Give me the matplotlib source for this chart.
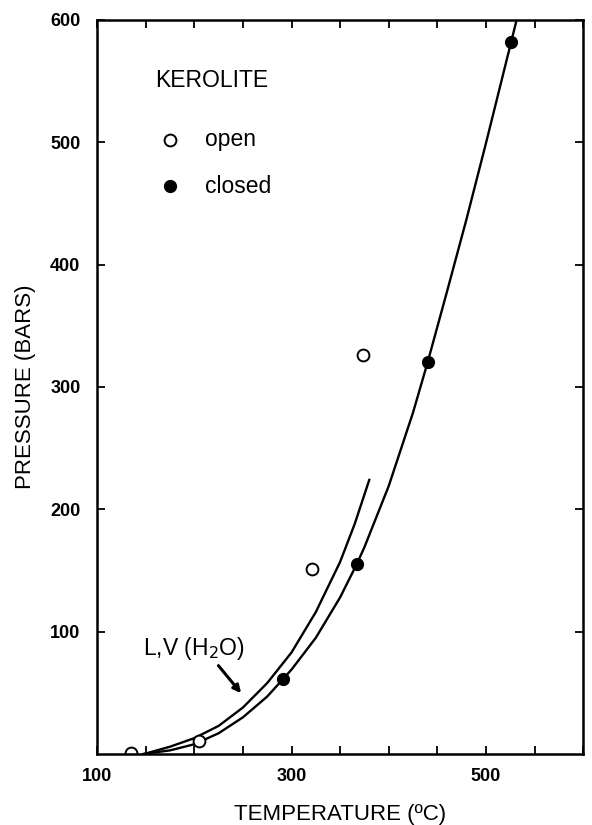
import numpy as np
import matplotlib.pyplot as plt
from matplotlib.ticker import MultipleLocator

plt.rcParams['font.family'] = ['Liberation Sans', 'DejaVu Sans']

# points mesures
open_T = np.array([135, 205, 321, 374])
open_P = np.array([1, 11, 151, 326])
closed_T = np.array([291, 367, 440, 526])
closed_P = np.array([61, 155, 320, 582])

# courbe de la reaction
curve_T = [147, 175, 200, 225, 250, 275, 291, 300, 325, 350, 367, 375, 400,
           425, 440, 460, 480, 500, 526, 531]
curve_P = [0, 3, 8, 17, 30, 47, 61, 69, 95, 128, 155, 169, 219,
           279, 320, 378, 437, 499, 582, 598]

# courbe L,V de l'eau
water_T = [148, 175, 200, 225, 250, 275, 300, 325, 350, 365, 380]
water_P = [0, 6, 13, 23, 38, 58, 83, 116, 157, 188, 224]

fig = plt.figure(figsize=(5.92, 8.25), dpi=100)
ax = fig.add_axes([0.164, 0.086, 0.821, 0.89])

ax.plot(curve_T, curve_P, color='k', linewidth=1.7, solid_joinstyle='round')
ax.plot(water_T, water_P, color='k', linewidth=1.7, solid_joinstyle='round')
ax.plot(open_T, open_P, 'o', mfc='white', mec='k', mew=1.4, ms=8.5)
ax.plot(closed_T, closed_P, 'o', color='k', ms=8.5)

# legende
ax.text(160, 550, "KEROLITE", fontsize=16.5, va='center')
ax.plot([175], [502], 'o', mfc='white', mec='k', mew=1.4, ms=8.5)
ax.text(211, 502, "open", fontsize=16.5, va='center')
ax.plot([175], [464], 'o', color='k', ms=8.5)
ax.text(211, 464, "closed", fontsize=16.5, va='center')

ax.text(147, 86, "L,V (H$_2$O)", fontsize=16.5, va='center')
ax.annotate("", xy=(250, 48), xytext=(223, 74),
            arrowprops=dict(arrowstyle='-|>', color='k', lw=2.2, mutation_scale=11))

ax.set_xlim(100, 600)
ax.set_ylim(0, 600)
ax.set_xticks([100, 300, 500])
ax.xaxis.set_minor_locator(MultipleLocator(50))
ax.set_yticks([100, 200, 300, 400, 500, 600])
ax.tick_params(which='both', direction='in', top=True, right=True, length=6, width=1.3)
for lab in ax.get_xticklabels() + ax.get_yticklabels():
    lab.set_fontweight('bold')
    lab.set_fontsize(13)
ax.tick_params(axis='x', pad=10)
ax.tick_params(axis='y', pad=12)
for s in ax.spines.values():
    s.set_linewidth(1.8)

ax.set_xlabel("TEMPERATURE (ºC)", fontsize=16, labelpad=14)
ax.set_ylabel("PRESSURE (BARS)", fontsize=16, labelpad=10)

fig.savefig("out.png", dpi=100)
